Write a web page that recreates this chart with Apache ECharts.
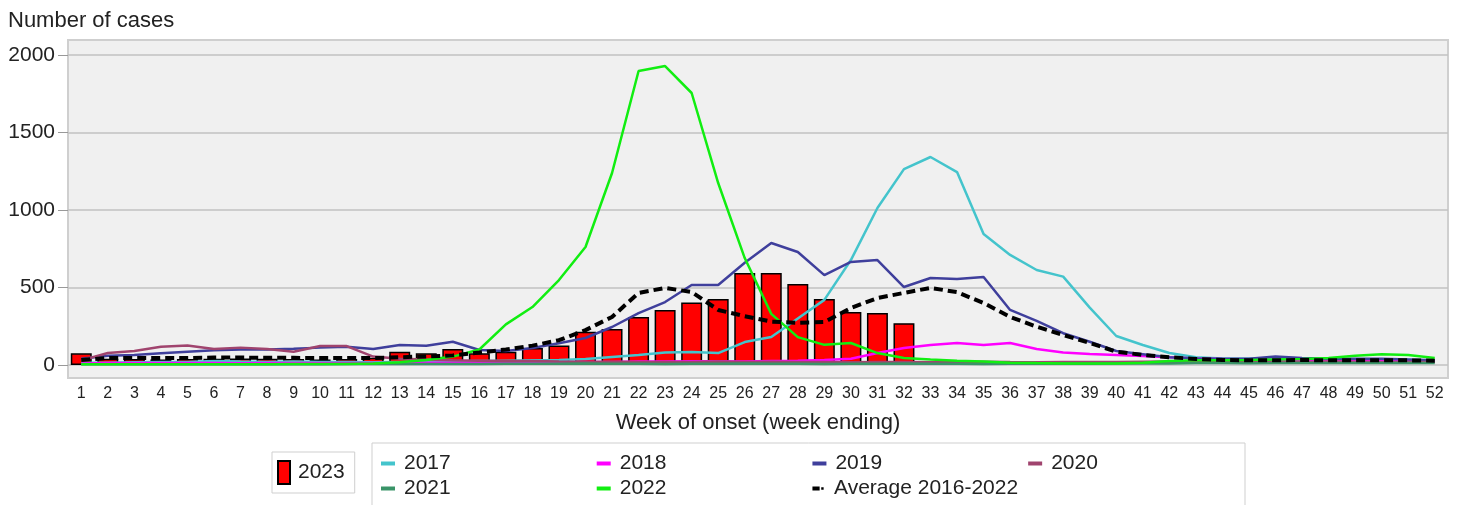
<!DOCTYPE html>
<html>
<head>
<meta charset="utf-8">
<script src="https://cdn.jsdelivr.net/npm/echarts@6/dist/echarts.min.js"></script>
<style>
html,body{margin:0;padding:0;background:#fff;}
#chart{width:1461px;height:505px;}
</style>
</head>
<body>
<div id="chart"></div>
<script>
const weeks = Array.from({length: 52}, (_, i) => String(i + 1));
const yTicks = [0, 500, 1000, 1500, 2000];

const y2023 = [75, 40, 38, 36, 38, 40, 42, 40, 38, 36, 38, 47, 86, 75, 103, 75, 86, 110, 125, 215, 232, 310, 355, 403, 425, 593, 593, 523, 425, 342, 335, 270];
const y2017 = [15, 15, 18, 20, 20, 25, 22, 20, 22, 20, 20, 18, 20, 22, 22, 25, 28, 30, 32, 39, 52, 65, 80, 84, 77, 148, 180, 300, 420, 677, 1013, 1264, 1342, 1245, 845, 710, 613, 570, 370, 187, 129, 77, 50, 42, 40, 40, 38, 36, 36, 35, 32, 28];
const y2018 = [10, 12, 12, 13, 12, 12, 11, 12, 12, 13, 12, 12, 12, 14, 15, 15, 15, 18, 18, 20, 20, 22, 22, 24, 24, 22, 26, 28, 32, 40, 77, 110, 129, 142, 129, 142, 103, 80, 71, 65, 58, 50, 42, 38, 35, 32, 30, 28, 26, 26, 25, 24];
const y2019 = [40, 60, 65, 75, 85, 95, 100, 100, 105, 112, 118, 103, 129, 124, 150, 97, 90, 110, 140, 174, 245, 335, 406, 516, 516, 660, 787, 729, 580, 665, 677, 503, 561, 555, 568, 355, 285, 205, 150, 90, 70, 50, 42, 40, 40, 55, 45, 40, 40, 40, 35, 30];
const y2020 = [30, 77, 90, 118, 125, 103, 112, 103, 86, 122, 122, 54, 40, 35, 30, 28, 25, 25, 22, 20, 21, 20, 19, 20, 22, 20, 21, 20, 19, 18, 20, 19, 18, 20, 21, 19, 18, 20, 19, 20, 21, 22, 20, 19, 20, 21, 20, 22, 21, 20, 19, 20];
const y2021 = [5, 4, 4, 5, 5, 4, 4, 5, 5, 5, 6, 6, 6, 6, 7, 7, 8, 8, 8, 9, 8, 8, 7, 8, 8, 9, 8, 8, 7, 8, 8, 9, 8, 8, 7, 8, 8, 9, 8, 9, 10, 10, 12, 12, 11, 12, 13, 12, 12, 13, 12, 12];
const y2022 = [5, 5, 5, 5, 5, 5, 5, 5, 6, 6, 7, 10, 18, 32, 54, 100, 262, 374, 548, 761, 1239, 1897, 1929, 1755, 1174, 690, 330, 180, 130, 142, 77, 45, 35, 28, 22, 15, 12, 10, 10, 10, 15, 25, 30, 30, 32, 35, 38, 45, 60, 70, 65, 45];
const yAvg = [32, 45, 45, 45, 45, 48, 48, 46, 46, 45, 45, 45, 50, 55, 62, 80, 100, 125, 160, 225, 310, 465, 497, 471, 355, 315, 280, 272, 277, 368, 432, 465, 497, 470, 400, 310, 247, 194, 142, 86, 65, 50, 39, 32, 30, 30, 32, 30, 30, 30, 30, 28];

const FONT = "'Liberation Sans', Arial, sans-serif";

const chart = echarts.init(document.getElementById('chart'), null, {renderer: 'canvas'});

function lineSeries(name, data, color, width, type) {
  return {
    name: name, type: 'line', data: data, symbol: 'none', smooth: false,
    lineStyle: {color: color, width: width, type: type || 'solid'},
    itemStyle: {color: color},
    emphasis: {disabled: true}
  };
}

const option = {
  animation: false,
  backgroundColor: '#ffffff',
  title: {
    text: 'Number of cases', left: 3, top: 5,
    textStyle: {fontFamily: FONT, fontSize: 22, fontWeight: 'normal', color: '#222'}
  },
  grid: {
    left: 68, right: 13, top: 40, bottom: 127,
    show: true, backgroundColor: '#f0f0f0', borderColor: '#cfcfcf', borderWidth: 2
  },
  xAxis: {
    type: 'category', data: weeks, boundaryGap: true,
    axisLine: {show: false, onZero: false},
    axisTick: {show: false},
    axisLabel: {interval: 0, margin: 8, fontFamily: FONT, fontSize: 16, color: '#222'},
    name: 'Week of onset (week ending)', nameLocation: 'middle', nameGap: 34,
    nameTextStyle: {fontFamily: FONT, fontSize: 22, color: '#222'}
  },
  yAxis: {
    type: 'value', min: -84, max: 2097,
    axisLine: {show: false},
    axisTick: {show: true, length: 10, customValues: yTicks, lineStyle: {color: '#999'}},
    axisLabel: {customValues: yTicks, margin: 13, fontFamily: FONT, fontSize: 21, color: '#222',
                formatter: function (v) { return String(v); }},
    splitLine: {show: true, lineStyle: {color: '#c2c2c2', width: 1.5}}
  },
  legend: [
    {
      data: ['2023'], left: 272, top: 452, orient: 'horizontal', icon: 'rect',
      itemWidth: 12, itemHeight: 23, itemGap: 4,
      borderColor: '#cfcfcf', borderWidth: 1, padding: [8, 10, 8, 5],
      textStyle: {fontFamily: FONT, fontSize: 21, color: '#222', padding: [0, 0, 0, 3]}
    },
    {
      data: ['2017', '2018', '2019', '2020'], left: 381, top: 453, padding: 0,
      itemWidth: 14, itemHeight: 4, itemGap: 146, icon: 'rect',
      textStyle: {fontFamily: FONT, fontSize: 21, color: '#222', padding: [0, 0, 0, 4]}
    },
    {
      data: ['2021', '2022', {name: 'Average 2016-2022', icon: 'path://M0,0H9V5H0Z M11,1H14V4H11Z'}],
      left: 381, top: 478, padding: 0,
      itemWidth: 14, itemHeight: 4, itemGap: 146, icon: 'rect',
      textStyle: {fontFamily: FONT, fontSize: 21, color: '#222', padding: [0, 0, 0, 4]}
    }
  ],
  graphic: [
    {type: 'rect', silent: true, z: -1, shape: {x: 372, y: 443, width: 873, height: 70},
     style: {fill: 'none', stroke: '#cfcfcf', lineWidth: 1}}
  ],
  series: [
    {
      name: '2023', type: 'bar', data: y2023, barWidth: '79%',
      itemStyle: {color: '#ff0000', borderColor: '#000', borderWidth: 1.5},
      emphasis: {disabled: true}
    },
    lineSeries('2017', y2017, '#44c4cc', 2.5),
    lineSeries('2018', y2018, '#ff00ff', 2.5),
    lineSeries('2019', y2019, '#3f3f9c', 2.5),
    lineSeries('2020', y2020, '#a0446e', 2.5),
    lineSeries('2021', y2021, '#3a9468', 2.5),
    lineSeries('2022', y2022, '#11ee11', 2.5),
    lineSeries('Average 2016-2022', yAvg, '#000000', 4, [9, 5])
  ]
};
chart.setOption(option);
</script>
</body>
</html>
